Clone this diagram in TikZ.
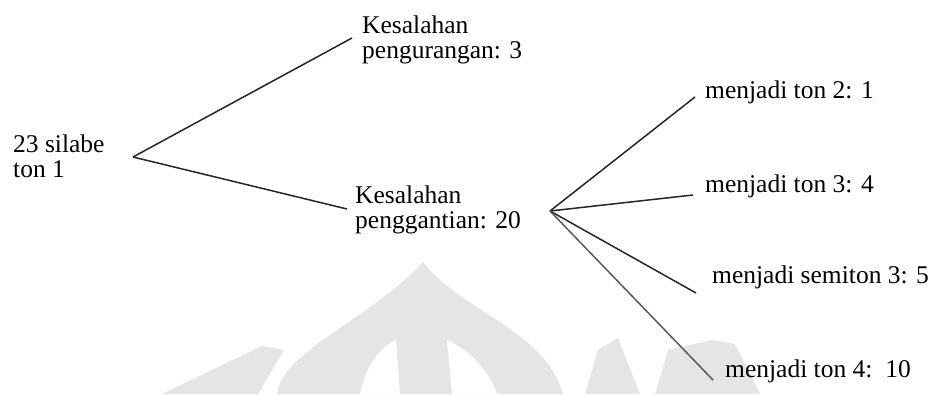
\documentclass[tikz,border=0pt]{standalone}
\usepackage{fontspec}
\setmainfont{Liberation Serif}
\begin{document}
\begin{tikzpicture}[x=1pt,y=-1pt,
  lbl/.style={inner sep=0pt, anchor=base west, font=\fontsize{25.5}{25}\selectfont},
  branch/.style={line width=1.5pt, draw=black!85},
  faint/.style={fill=black!10, draw=none}]
\useasboundingbox (0,0) rectangle (936,394);

% faint background emblem
\fill[faint] (162,394) -- (262,346) -- (284,350) -- (258,394) -- cycle;
\fill[faint] (277,394) .. controls (281,352) and (372,318) .. (423,262)
             .. controls (462,312) and (545,330) .. (563,394) -- cycle;
\fill[white] (360,394) .. controls (366,365) and (382,345) .. (396,340) -- (400,394) -- cycle;
\fill[white] (452,394) -- (447,340) .. controls (466,348) and (488,368) .. (497,394) -- cycle;
\fill[faint] (585,394) -- (598,350) -- (618,338) -- (640,394) -- cycle;
\fill[faint] (655,394) -- (668,350) -- (712,340) -- (735,344) -- (760,394) -- cycle;

% labels
\node[lbl] (root) at (13,152) {\begin{tabular}[t]{@{}l@{}}23 silabe\\ton 1\end{tabular}};
\node[lbl] (kp) at (362,33) {\begin{tabular}[t]{@{}l@{}}Kesalahan\\pengurangan: 3\end{tabular}};
\node[lbl] (kg) at (355,203) {\begin{tabular}[t]{@{}l@{}}Kesalahan\\penggantian: 20\end{tabular}};
\node[lbl] (t2) at (705,98) {menjadi ton 2: 1};
\node[lbl] (t3) at (705,192) {menjadi ton 3: 4};
\node[lbl] (s3) at (712,283) {menjadi semiton 3: 5};
\node[lbl] (t4) at (725,377) {menjadi ton 4:~~10};

% branch points and line ends
\coordinate (fork1) at (133,157);
\coordinate (fork2) at (550,211);
\coordinate (kp-end) at (352,38);
\coordinate (kg-end) at (347,209);
\coordinate (t2-end) at (695,97);
\coordinate (t3-end) at (693,195);
\coordinate (s3-end) at (696,293);
\coordinate (t4-end) at (713,380);

% connectors
\draw[branch] (fork1) -- (kp-end);
\draw[branch] (fork1) -- (kg-end);
\draw[branch] (fork2) -- (t2-end);
\draw[branch] (fork2) -- (t3-end);
\draw[branch] (fork2) -- (s3-end);
\draw[branch, draw=black!65] (fork2) -- (t4-end);
\end{tikzpicture}
\end{document}
